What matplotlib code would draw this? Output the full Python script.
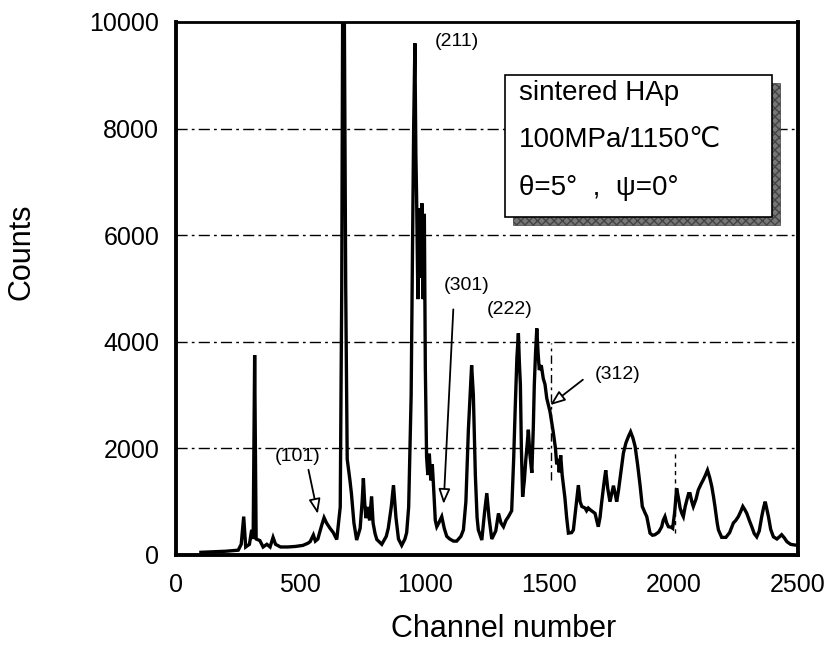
import matplotlib
matplotlib.use("Agg")
import matplotlib.pyplot as plt
from matplotlib.patches import Rectangle
import numpy as np

channel = [100, 150, 200, 250, 262, 272, 280, 295, 304, 310, 316, 322, 337, 350, 365, 378, 390, 400,
           420, 450, 480, 510, 530, 539, 552, 560, 570, 585, 595, 605, 619, 632, 646, 660, 666, 670,
           676, 682, 688, 699, 705, 715, 726, 740, 748, 753, 758, 763, 770, 778, 786, 792, 800, 807,
           827, 845, 853, 865, 874, 884, 894, 907, 920, 927, 935, 945, 955, 960, 964, 967, 972, 978,
           983, 988, 993, 998, 1002, 1007, 1012, 1018, 1024, 1030, 1036, 1042, 1048, 1056, 1068, 1078,
           1088, 1100, 1115, 1128, 1145, 1155, 1165, 1175, 1182, 1188, 1195, 1203, 1210, 1215, 1229,
           1240, 1249, 1258, 1269, 1285, 1296, 1306, 1316, 1326, 1336, 1349, 1357, 1363, 1370, 1376,
           1380, 1384, 1388, 1393, 1400, 1406, 1410, 1416, 1422, 1430, 1436, 1440, 1445, 1450, 1455,
           1460, 1468, 1476, 1483, 1490, 1503, 1516, 1525, 1530, 1536, 1540, 1546, 1552, 1563, 1570,
           1577, 1590, 1597, 1605, 1612, 1617, 1624, 1631, 1644, 1650, 1657, 1664, 1684, 1697, 1704,
           1711, 1720, 1727, 1735, 1744, 1751, 1758, 1765, 1771, 1778, 1784, 1791, 1798, 1808, 1818,
           1827, 1836, 1845, 1855, 1865, 1874, 1884, 1892, 1905, 1915, 1925, 1940, 1952, 1958, 1965,
           1972, 1979, 1990, 1996, 2004, 2012, 2020, 2026, 2033, 2039, 2046, 2053, 2060, 2066, 2073,
           2079, 2090, 2099, 2110, 2119, 2128, 2136, 2145, 2153, 2160, 2166, 2175, 2180, 2193, 2210,
           2225, 2240, 2250, 2260, 2270, 2278, 2286, 2294, 2304, 2314, 2324, 2334, 2344, 2354, 2362,
           2368, 2375, 2381, 2390, 2401, 2415, 2425, 2434, 2445, 2455, 2470, 2482, 2500]
counts = [50, 60, 70, 90, 200, 720, 150, 200, 470, 300, 3750, 300, 270, 150, 200, 150, 330, 200,
          150, 150, 160, 180, 220, 250, 375, 260, 300, 550, 700, 600, 500, 420, 290, 900, 5000, 10600,
          10600, 5000, 1800, 1400, 1150, 600, 280, 500, 1000, 1440, 1000, 690, 900, 650, 1100, 600, 400, 290,
          200, 350, 500, 900, 1310, 700, 300, 180, 300, 420, 900, 3000, 8000, 9600, 7500, 6700, 4800, 6500,
          5200, 6600, 4800, 6400, 3500, 1840, 1500, 1900, 1400, 1700, 1200, 650, 530, 600, 720, 500,
          350, 300, 260, 260, 350, 470, 1000, 2350, 3000, 3560, 3000, 1500, 700, 470, 280,
          800, 1160, 700, 300, 450, 780, 600, 530, 650, 720, 830, 1800, 2720, 3700, 4160,
          3600, 3200, 2000, 1090, 1400, 1800, 2000, 2350, 1900, 1540, 2400, 3200, 3800, 4250, 3800,
          3470, 3560, 3310, 3200, 2940, 2690, 2310, 2000, 1700, 1800, 1550, 1870, 1500, 1070, 700,
          410, 420, 470, 800, 1100, 1310, 1000, 910, 880, 830, 880, 850, 780, 530, 700,
          1000, 1350, 1590, 1250, 1000, 1150, 1300, 1150, 1000, 1200, 1410, 1650, 1910, 2100, 2220,
          2310, 2200, 2040, 1700, 1310, 910, 800, 720, 410, 370, 380, 430, 530, 650, 720,
          600, 530, 520, 500, 800, 1250, 1050, 880, 780, 720, 900, 1030, 1150, 1150, 1000,
          910, 1050, 1220, 1330, 1410, 1500, 1590, 1450, 1290, 1100, 910, 600, 470, 330, 330,
          420, 600, 650, 720, 820, 910, 850, 780, 650, 530, 400, 340, 450, 720, 900,
          1000, 850, 720, 480, 340, 300, 340, 380, 320, 250, 200, 190, 180]

x_ticks = [0, 500, 1000, 1500, 2000, 2500]
y_ticks = [0, 2000, 4000, 6000, 8000, 10000]
grid_levels = [2000, 4000, 6000, 8000]

peak_labels = ["(101)", "(211)", "(301)", "(222)", "(312)"]
label_pos = [(488, 1850), (1130, 9640), (1166, 5050), (1340, 4600), (1773, 3380)]
arrow_from = [(530, 1650), None, (1115, 4660), None, (1644, 3320)]
arrow_to = [(572, 720), None, (1075, 905), None, (1495, 2780)]

info_lines = ["sintered HAp", "100MPa/1150℃", "θ=5°  ,  ψ=0°"]

fam = ['Liberation Sans', 'DejaVu Sans']

fig = plt.figure(figsize=(8.39, 6.5), dpi=100)
ax = fig.add_axes([0.2098, 0.1462, 0.7414, 0.8200])

for g in grid_levels:
    ax.axhline(g, color='black', lw=1.0, ls=(0, (8, 3, 2, 3)), zorder=1)

ax.vlines([1507], 1400, 3970, color='black', lw=1.0, ls=(0, (6, 3, 2, 3)), zorder=1)
ax.vlines([2006], 410, 1970, color='black', lw=1.0, ls=(0, (3, 3)), zorder=1)

ax.plot(channel, counts, color='black', lw=2.4, zorder=3, solid_joinstyle='miter')

ax.set_xlim(0, 2500)
ax.set_ylim(0, 10000)
ax.set_xticks(x_ticks)
ax.set_yticks(y_ticks)
ax.set_xticklabels([str(v) for v in x_ticks], family=fam, fontsize=18)
ax.set_yticklabels([str(v) for v in y_ticks], family=fam, fontsize=18)
ax.tick_params(axis='both', length=0)
ax.tick_params(axis='y', pad=12)
ax.tick_params(axis='x', pad=13)

for side in ['left', 'bottom', 'right']:
    ax.spines[side].set_linewidth(2.8)
ax.spines['top'].set_linewidth(2.0)

ax.set_ylabel("Counts", family=fam, fontsize=22, labelpad=38)
ax.yaxis.label.set_y(0.568)
ax.set_xlabel("Channel number", family=fam, fontsize=22, labelpad=12)
ax.xaxis.label.set_x(0.526)

for lab, pos, af, at in zip(peak_labels, label_pos, arrow_from, arrow_to):
    ax.text(pos[0], pos[1], lab, ha='center', va='center', family=fam, fontsize=14, zorder=5)
    if af is not None:
        ax.annotate("", xy=at, xytext=af,
                    arrowprops=dict(arrowstyle='-|>,head_length=0.9,head_width=0.35',
                                    fc='white', ec='black', lw=1.3), zorder=5)

# info box with shadow
bx, by, bw, bh = 0.529, 0.634, 0.429, 0.267
ax.add_patch(Rectangle((bx + 0.013, by - 0.015), bw, bh, transform=ax.transAxes,
                       facecolor='#777777', edgecolor='#444444', hatch='xxxx', lw=0.5, zorder=6))
ax.add_patch(Rectangle((bx, by), bw, bh, transform=ax.transAxes,
                       facecolor='white', edgecolor='black', lw=1.2, zorder=7))
for i, line in enumerate(info_lines):
    ax.text(bx + 0.022, [0.867, 0.779, 0.689][i], line, transform=ax.transAxes,
            ha='left', va='center', family=fam, fontsize=20, zorder=8)

fig.savefig("out.png", dpi=100)
